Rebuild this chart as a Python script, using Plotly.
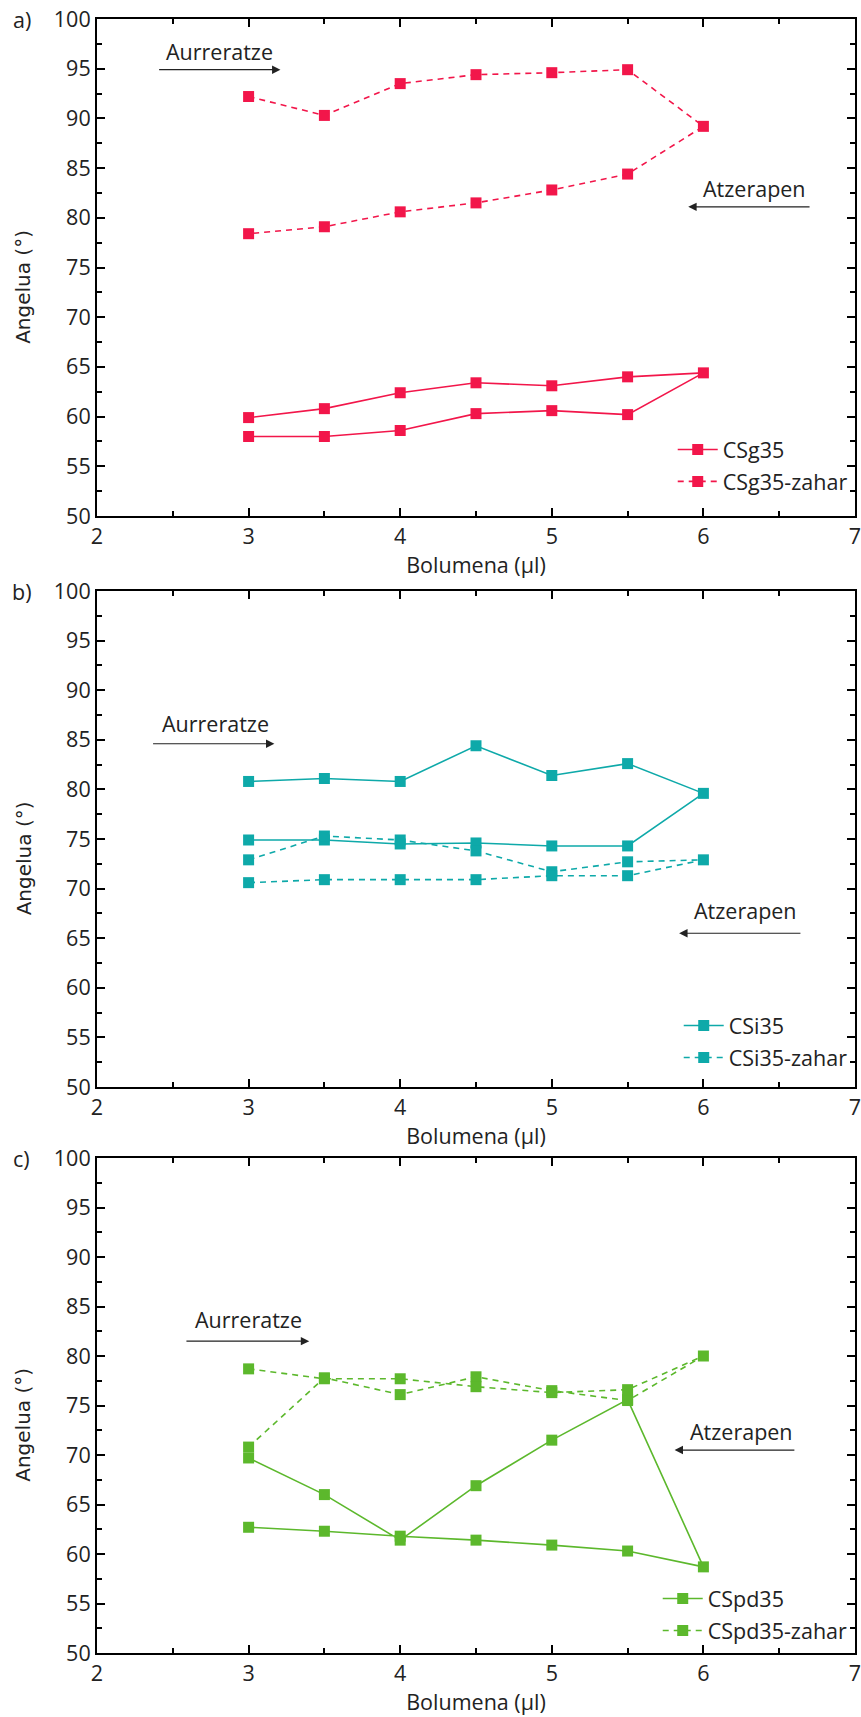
import plotly.graph_objects as go

# ---------------- data ----------------
# volume sweep: advancing 3 -> 6 ul, then receding 6 -> 3 ul
volume = [3, 3.5, 4, 4.5, 5, 5.5, 6, 5.5, 5, 4.5, 4, 3.5, 3]

csg35 = [58.0, 58.0, 58.6, 60.3, 60.6, 60.2, 64.4, 64.0, 63.1, 63.4, 62.4, 60.8, 59.9]
csg35_zahar = [92.2, 90.3, 93.5, 94.4, 94.6, 94.9, 89.2, 84.4, 82.8, 81.5, 80.6, 79.1, 78.4]

csi35 = [80.8, 81.1, 80.8, 84.4, 81.4, 82.6, 79.6, 74.3, 74.3, 74.6, 74.5, 74.9, 74.9]
csi35_zahar = [72.9, 75.3, 74.9, 73.8, 71.7, 72.7, 72.9, 71.3, 71.3, 70.9, 70.9, 70.9, 70.6]

cspd35 = [62.7, 62.3, 61.8, 61.4, 60.9, 60.3, 58.7, 75.6, 71.5, 66.9, 61.4, 66.0, 69.7]
cspd35_zahar = [70.8, 77.8, 76.1, 77.9, 76.5, 75.5, 80.0, 76.6, 76.3, 76.9, 77.7, 77.7, 78.7]

series_names = [("CSg35", "CSg35-zahar"), ("CSi35", "CSi35-zahar"), ("CSpd35", "CSpd35-zahar")]
panel_labels = ["a)", "b)", "c)"]
x_ticks = [2, 3, 4, 5, 6, 7]
y_ticks = [50, 55, 60, 65, 70, 75, 80, 85, 90, 95, 100]
x_title = "Bolumena (μl)"
y_title = "Angelua (°)"
adv_text = "Aurreratze"
rec_text = "Atzerapen"

# ---------------- style ----------------
colors = ["#F2164A", "#0EA9A9", "#5CB82C"]
W, H = 861, 1717
P_LEFT, P_RIGHT = 97, 855
panel_px = [(19, 516), (591, 1087), (1158, 1653)]
M_L = P_LEFT
M_R = W - P_RIGHT
M_T = panel_px[0][0]
M_B = H - panel_px[2][1]
PH = H - M_T - M_B


def py_to_paper(py):
    return 1 - (py - M_T) / PH


domains = [[py_to_paper(b), py_to_paper(t)] for t, b in panel_px]

FS = 21.5
TICKFONT = dict(family="Open Sans", size=FS, color="#222222")
TITLEFONT_X = dict(family="Open Sans", size=21.5, color="#222222")
TITLEFONT_Y = dict(family="DejaVu Sans", size=20, color="#222222")

fig = go.Figure()
data_sets = [(csg35, csg35_zahar), (csi35, csi35_zahar), (cspd35, cspd35_zahar)]

for i, ((ys, yd), (ns, nd), col) in enumerate(zip(data_sets, series_names, colors)):
    xa = "x" if i == 0 else f"x{i+1}"
    ya = "y" if i == 0 else f"y{i+1}"
    lg = "legend" if i == 0 else f"legend{i+1}"
    fig.add_trace(go.Scatter(
        x=volume, y=ys, mode="lines+markers", name=ns,
        line=dict(color=col, width=1.6),
        marker=dict(symbol="square", size=11, color=col),
        xaxis=xa, yaxis=ya, legend=lg, legendgroup=ns))
    fig.add_trace(go.Scatter(
        x=volume, y=yd, mode="lines+markers", name=nd,
        line=dict(color=col, width=1.6, dash="6px,5px"),
        marker=dict(symbol="square", size=11, color=col),
        xaxis=xa, yaxis=ya, legend=lg, legendgroup=nd))

layout = dict(
    width=W, height=H,
    margin=dict(t=M_T, b=M_B, l=M_L, r=M_R, autoexpand=False),
    paper_bgcolor="white", plot_bgcolor="white",
    showlegend=True,
)

common_axis = dict(
    showline=True, linewidth=2, linecolor="black", mirror="allticks",
    ticks="inside", ticklen=8, tickwidth=1.5, tickcolor="black",
    showgrid=False, zeroline=False, tickfont=TICKFONT,
    ticklabeloverflow="allow", automargin=False,
)

legend_bottoms = [502, 1078, 1651]
for i in range(3):
    sx = "" if i == 0 else str(i + 1)
    layout[f"xaxis{sx}"] = dict(
        common_axis, domain=[0, 1], anchor=f"y{sx}", range=[2, 7],
        tickvals=x_ticks,
        minor=dict(dtick=0.5, tick0=2, ticks="inside", ticklen=5, tickwidth=1.5, tickcolor="black"),
        title=dict(text=x_title, font=TITLEFONT_X, standoff=4),
    )
    layout[f"yaxis{sx}"] = dict(
        common_axis, domain=domains[i], anchor=f"x{sx}", range=[50, 100],
        tickvals=y_ticks,
        minor=dict(dtick=2.5, tick0=50, ticks="inside", ticklen=5, tickwidth=1.5, tickcolor="black"),
    )
    layout[f"legend{sx}"] = dict(
        x=0.997, xanchor="right",
        y=py_to_paper(legend_bottoms[i]), yanchor="bottom",
        bgcolor="rgba(0,0,0,0)", borderwidth=0,
        font=dict(family="Open Sans", size=FS, color="#222222"),
        tracegroupgap=1, itemwidth=40,
    )

fig.update_layout(**layout)

# ---------------- annotations ----------------
# (text x, text y, arrow tail x, arrow head x, arrow y) in data coordinates
adv = [(2.81, 96.7, 2.40, 3.21, 94.9), (2.78, 86.6, 2.36, 3.17, 84.6), (3.00, 83.7, 2.58, 3.40, 81.5)]
rec = [(6.34, 82.9, 6.71, 5.90, 81.1), (6.28, 67.8, 6.65, 5.84, 65.5), (6.25, 72.4, 6.61, 5.81, 70.5)]

annotations = []
for i in range(3):
    sx = "" if i == 0 else str(i + 1)
    xr, yr = f"x{sx}", f"y{sx}"
    for (tx, ty, x0, x1, ay), txt in ((adv[i], adv_text), (rec[i], rec_text)):
        annotations.append(dict(x=tx, y=ty, xref=xr, yref=yr, text=txt, showarrow=False,
                                font=dict(family="Open Sans", size=FS, color="#222222")))
        annotations.append(dict(x=x1, y=ay, ax=x0, ay=ay, xref=xr, yref=yr, axref=xr, ayref=yr,
                                text="", showarrow=True, arrowhead=2, arrowsize=1.4,
                                arrowwidth=1.2, arrowcolor="#222222", standoff=0))
    annotations.append(dict(x=-0.099, y=100, xref="paper", yref=yr, text=panel_labels[i],
                            showarrow=False, xanchor="center", yanchor="middle",
                            font=dict(family="Open Sans", size=FS, color="#222222")))
    # y-axis title (placed slightly below the axis centre, as in the original)
    annotations.append(dict(x=-0.097, y=73.1, xref="paper", yref=yr, text=y_title,
                            textangle=-90, showarrow=False, xanchor="center", yanchor="middle",
                            font=TITLEFONT_Y))

fig.update_layout(annotations=annotations)

# remove the default 8px page margin so the figure sits at the page origin
fig.write_html("out.html", config={"displayModeBar": False},
               post_script="document.body.style.margin='0';")
